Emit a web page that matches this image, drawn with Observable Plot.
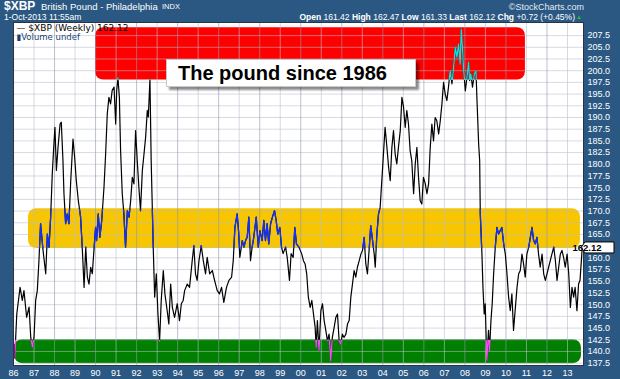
<!DOCTYPE html>
<html><head><meta charset="utf-8">
<script src="https://cdn.jsdelivr.net/npm/d3@7"></script>
<script src="https://cdn.jsdelivr.net/npm/@observablehq/plot@0.6"></script>
<style>
html,body{margin:0;padding:0;background:#2a5883;}
#wrap{position:relative;width:620px;height:379px;background:#2a5883;font-family:"Liberation Sans",Arial,sans-serif;color:#fff;overflow:hidden;}
#head{position:relative;height:22px;}
#head span{position:absolute;white-space:nowrap;line-height:1;}
#note{position:absolute;left:166px;top:59px;width:237px;height:26px;background:#fff;border:1px solid #c8c8c8;box-shadow:3px 3px 2px rgba(0,0,0,0.45);color:#000;font:bold 20px "Liberation Sans",Arial,sans-serif;line-height:27px;padding-left:11px;box-sizing:content-box;}
svg{display:block;}
</style></head>
<body>
<div id="wrap">
  <div id="head">
    <span style="left:4px;top:0px;font-weight:bold;font-size:12px;">$XBP</span>
    <span style="left:41px;top:2px;font-size:9.5px;">British Pound - Philadelphia</span>
    <span style="left:162px;top:3px;font-size:7.5px;">INDX</span>
    <span style="left:4px;top:13px;font-size:8.5px;">1-Oct-2013 11:55am</span>
    <span style="right:36px;top:3px;font-size:9px;color:#e4ebf2;">©StockCharts.com</span>
    <span style="right:45px;top:13px;font-size:8.5px;"><b>Open</b> 161.42 <b>High</b> 162.47 <b>Low</b> 161.33 <b>Last</b> 162.12 <b>Chg</b> +0.72 (+0.45%)</span>
    <span style="right:38px;top:14px;font-size:6px;color:#2bbf2b;">▲</span>
  </div>
  <div id="chart"></div>
  <div id="note">The pound since 1986</div>
</div>
<script>
// ---- data ----
const weeks = [
1986.04,1986.06,1986.16,1986.32,1986.43,1986.51,1986.64,1986.76,1986.84,1986.92,
1987.00,1987.08,1987.16,1987.24,1987.32,1987.44,1987.57,1987.65,1987.73,1987.81,1987.89,1987.97,
1988.02,1988.09,1988.17,1988.27,1988.33,1988.41,1988.46,1988.54,1988.62,1988.70,1988.79,1988.90,1988.98,
1989.06,1989.16,1989.27,1989.35,1989.44,1989.52,1989.60,1989.68,1989.76,1989.84,1989.92,
1990.00,1990.05,1990.13,1990.21,1990.30,1990.41,1990.49,1990.57,1990.65,1990.73,1990.81,1990.90,1990.98,
1991.03,1991.09,1991.16,1991.22,1991.30,1991.38,1991.46,1991.55,1991.63,1991.71,1991.79,1991.87,1991.95,
1992.03,1992.11,1992.19,1992.28,1992.36,1992.44,1992.52,1992.57,1992.65,1992.71,1992.81,1992.88,1992.96,
1993.04,1993.12,1993.20,1993.30,1993.38,1993.49,1993.57,1993.66,1993.74,1993.85,1993.98,
1994.09,1994.18,1994.27,1994.34,1994.47,1994.58,1994.71,1994.79,1994.87,1994.95,
1995.04,1995.15,1995.25,1995.36,1995.44,1995.56,1995.69,1995.80,1995.93,
1996.04,1996.14,1996.25,1996.38,1996.50,1996.63,1996.71,1996.79,1996.90,1996.98,
1997.03,1997.15,1997.23,1997.31,1997.39,1997.47,1997.55,1997.63,1997.71,1997.83,1997.93,
1998.01,1998.12,1998.20,1998.28,1998.36,1998.44,1998.53,1998.62,1998.72,1998.80,1998.88,1998.98,
1999.06,1999.14,1999.26,1999.34,1999.45,1999.53,1999.63,1999.71,1999.79,1999.91,
2000.05,2000.13,2000.21,2000.29,2000.37,2000.46,2000.54,2000.62,2000.70,2000.75,2000.81,2000.89,2000.98,
2001.06,2001.14,2001.22,2001.30,2001.38,2001.46,2001.54,2001.63,2001.71,2001.79,2001.87,2001.95,
2002.03,2002.11,2002.20,2002.28,2002.36,2002.44,2002.52,2002.60,2002.68,2002.76,2002.85,2002.93,
2003.01,2003.09,2003.17,2003.25,2003.33,2003.41,2003.50,2003.58,2003.63,2003.71,2003.79,2003.87,2003.95,
2004.03,2004.11,2004.20,2004.28,2004.36,2004.44,2004.52,2004.60,2004.68,2004.76,2004.85,2004.93,
2005.01,2005.09,2005.17,2005.25,2005.33,2005.41,2005.50,2005.58,2005.66,2005.74,2005.82,2005.90,2005.98,
2006.07,2006.15,2006.23,2006.31,2006.39,2006.47,2006.55,2006.63,2006.72,2006.80,2006.88,2006.96,
2007.04,2007.12,2007.20,2007.28,2007.37,2007.45,2007.53,2007.61,2007.69,2007.77,2007.82,2007.89,2007.93,
2008.02,2008.10,2008.18,2008.23,2008.29,2008.37,2008.46,2008.54,2008.59,2008.67,2008.72,2008.75,2008.83,2008.88,2008.94,2008.99,
2009.04,2009.07,2009.15,2009.20,2009.27,2009.33,2009.40,2009.48,2009.56,2009.64,2009.72,2009.80,2009.89,2009.97,
2010.05,2010.13,2010.21,2010.29,2010.37,2010.46,2010.54,2010.62,2010.70,2010.78,2010.86,2010.94,
2011.02,2011.11,2011.19,2011.27,2011.35,2011.43,2011.51,2011.59,2011.67,2011.76,2011.84,2011.92,
2012.00,2012.08,2012.16,2012.24,2012.33,2012.41,2012.49,2012.57,2012.65,2012.73,2012.81,2012.89,2012.98,
2013.06,2013.14,2013.22,2013.30,2013.37,2013.46,2013.54,2013.61,2013.71,2013.75
];
const xbp = [
141.5,138.6,148.0,153.7,150.9,153.0,147.3,149.5,143.0,141.0,
143.0,150.9,153.0,159.4,167.3,161.6,156.6,165.1,162.3,168.7,178.0,184.4,
187.9,178.7,183.6,188.6,189.0,180.8,173.7,167.3,169.4,167.3,176.5,185.4,181.5,
176.5,172.2,168.7,162.3,153.7,162.3,155.9,154.4,158.0,156.6,161.6,
166.5,163.7,169.4,164.4,168.0,175.1,182.2,190.8,194.3,192.9,195.8,196.5,188.6,
195.8,198.5,194.3,182.9,173.7,169.4,162.3,170.1,168.7,172.2,177.2,175.8,187.2,
180.8,175.1,170.1,178.7,182.2,185.8,191.5,190.1,198.2,180.8,162.3,151.6,156.6,
148.0,142.2,150.9,157.3,152.3,148.7,145.9,154.4,149.5,147.3,150.2,
146.6,150.2,150.9,153.0,154.4,153.7,159.4,162.6,156.6,155.2,
159.4,162.6,159.4,156.6,160.1,156.6,157.3,155.2,153.0,
152.3,153.7,150.5,153.7,155.2,155.9,159.4,166.5,169.4,165.1,
160.1,163.7,162.3,163.7,164.4,168.7,159.4,162.3,164.4,168.7,162.3,
165.8,163.7,168.0,163.7,167.3,163.0,167.3,168.7,170.1,168.0,165.1,166.5,
162.3,160.9,162.3,160.1,155.2,160.9,160.1,166.5,163.0,162.3,
160.8,159.4,158.7,156.6,151.6,149.4,150.9,148.0,145.2,140.9,146.6,140.2,148.7,
150.2,146.6,144.5,142.3,143.7,138.1,143.0,145.2,147.3,148.0,142.3,141.6,
143.7,143.0,143.7,145.9,146.6,151.6,154.4,157.3,155.9,158.0,159.4,160.8,
161.6,164.4,158.7,156.6,161.6,166.9,163.7,160.8,158.0,165.1,169.4,170.8,176.5,
182.2,187.9,183.6,179.4,176.5,183.6,187.2,182.2,180.1,183.6,187.2,194.3,
192.2,187.9,191.5,188.6,182.9,180.8,173.7,180.1,183.6,177.2,172.2,171.5,177.2,
175.8,173.7,175.8,183.6,188.6,185.0,190.0,189.3,186.5,189.3,192.9,197.5,
195.0,193.6,196.5,200.0,197.2,200.7,205.0,202.9,205.7,201.4,208.9,204.3,200.7,
195.7,198.6,201.8,197.9,199.3,196.5,199.3,200.0,193.6,184.3,180.8,169.4,160.8,153.7,148.0,150.2,
142.3,138.1,144.5,140.2,146.6,150.2,156.6,162.3,166.5,165.1,165.8,166.5,163.0,160.8,
156.6,151.6,148.7,152.3,144.5,149.4,153.7,156.6,157.3,160.8,158.7,155.9,
160.8,162.3,164.4,166.5,163.7,163.0,164.4,160.8,158.0,160.8,156.6,155.2,
156.6,158.0,159.4,160.8,162.3,159.4,155.2,158.0,160.8,161.6,160.1,158.0,160.8,
156.6,149.4,153.7,151.6,153.7,148.7,154.4,155.2,161.6,162.12
];
// highlight zones
const bandNames  = ["high", "middle", "low"];
const bandStart  = [1990.0, 1986.73, 1986.05];
const bandEnd    = [2010.95, 2013.63, 2013.68];
const bandLow    = [198.0, 162.0, 137.4];
const bandHigh   = [209.2, 170.5, 142.5];
const bandFill   = ["#ff0000", "#f7c600", "#007f00"];
const bandLine   = ["#10e0e0", "#1030ff", "#f050f0"];
// axes
const yearTicks = d3.range(1986, 2014);
const valueTicks = d3.range(137.5, 207.6, 2.5);
const lastValue = 162.12;

const series = weeks.map((t, i) => ({t, v: xbp[i]}));
const bands = bandNames.map((name, i) => ({name, start: bandStart[i], end: bandEnd[i], lo: bandLow[i], hi: bandHigh[i], fill: bandFill[i], line: bandLine[i]}));
const fmt1 = d3.format(".1f");

const chart = Plot.plot({
  width: 620, height: 357,
  marginLeft: 13, marginRight: 37, marginTop: 0, marginBottom: 14,
  style: {background: "transparent", color: "#fff", fontFamily: "Liberation Sans, Arial, sans-serif", fontSize: "9px"},
  color: {type: "identity"},
  x: {domain: [1986, 2013.78], ticks: yearTicks, tickFormat: d => String(d).slice(2), tickSize: 0, tickPadding: 4, label: null},
  // the label nearest the last value sits under the last-value tag, as in the source
  y: {domain: [137.0, 210.3], ticks: valueTicks, tickFormat: d => Math.abs(d - lastValue) < 1.25 ? "" : fmt1(d), tickSize: 0, tickPadding: 4, label: null, axis: "right"},
  marks: [
    Plot.frame({fill: "white", stroke: "none"}),
    Plot.rect(bands, {x1: "start", x2: "end", y1: "lo", y2: "hi", fill: "fill", rx: 8}),
    Plot.ruleY(valueTicks, {stroke: "#b8bccb", strokeOpacity: 0.55}),
    Plot.ruleX(yearTicks, {stroke: d => d % 2 === 0 ? "#8e97ab" : "#b9bfcd", strokeOpacity: 0.6}),
    Plot.line(series, {x: "t", y: "v", stroke: "#000", strokeWidth: 1.2}),
    ...bands.map(b => Plot.line(series, {x: "t", y: "v", stroke: b.line, strokeWidth: 1.3})),
    Plot.text(["— $XBP (Weekly) 162.12"], {text: d => d, frameAnchor: "top-left", dx: 3, dy: 2, lineAnchor: "top", textAnchor: "start", fill: "#000", fontSize: 9, fontFamily: "DejaVu Sans"}),
    Plot.text(["▮Volume undef"], {text: d => d, frameAnchor: "top-left", dx: 3, dy: 11, lineAnchor: "top", textAnchor: "start", fill: "#1a3f73", fontSize: 8.5, fontFamily: "DejaVu Sans"}),
    Plot.frame({stroke: "#2d3340", strokeWidth: 1})
  ]
});
document.getElementById("chart").appendChild(chart);

// clip the coloured overlay lines to their zones, using Plot's own scales
const xs = chart.scale("x"), ys = chart.scale("y");
const svg = d3.select(chart);
const defs = svg.insert("defs", ":first-child");
const lineGroups = svg.selectAll('g[aria-label="line"]').nodes();
bands.forEach((b, i) => {
  const id = "zone-clip-" + i;
  const x1 = xs.apply(b.start), x2 = xs.apply(b.end);
  const y1 = ys.apply(b.hi), y2 = ys.apply(b.lo);
  defs.append("clipPath").attr("id", id).append("rect")
    .attr("x", x1).attr("y", y1).attr("width", x2 - x1).attr("height", y2 - y1);
  const g = lineGroups[i + 1];
  if (g) g.setAttribute("clip-path", `url(#${id})`);
});

// last value tag on the right axis
const ly = ys.apply(lastValue);
const lx = xs.apply(2013.78);
const tag = svg.append("g");
tag.append("path").attr("d", `M${lx - 2},${ly} L${lx + 2},${ly - 5.5} L${lx + 31},${ly - 5.5} L${lx + 31},${ly + 5.5} L${lx + 2},${ly + 5.5} Z`)
  .attr("fill", "#fff").attr("stroke", "#000").attr("stroke-width", 1);
tag.append("text").attr("x", lx + 4).attr("y", ly).attr("dy", "0.35em")
  .attr("fill", "#000").attr("font-weight", "bold").attr("font-size", 9.5)
  .attr("font-family", "Liberation Sans, Arial, sans-serif").text(d3.format(".2f")(lastValue));
</script>
</body></html>
